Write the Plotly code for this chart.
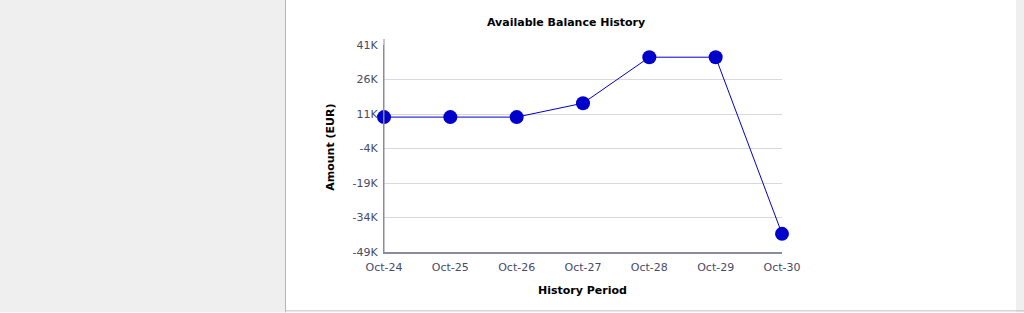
import plotly.graph_objects as go

categories = ["Oct-24", "Oct-25", "Oct-26", "Oct-27", "Oct-28", "Oct-29", "Oct-30"]
balance = [9650, 9650, 9650, 15700, 35700, 35700, -41100]
tick_vals = [41000, 26000, 11000, -4000, -19000, -34000, -49000]
tick_text = ["41K", "26K", "11K", "-4K", "-19K", "-34K", "-49K"]

W, H = 1024, 313
L, R, T, B = 384, 782, 45, 252.5

fig = go.Figure()
fig.add_trace(go.Scatter(
    x=categories, y=balance, mode="lines+markers",
    line=dict(color="#0000CC", width=1),
    marker=dict(color="#0000CC", size=14),
    cliponaxis=False, hoverinfo="x+y",
))

def px(x):
    return (x - L) / (R - L)

def py(y):
    return (H - B - (H - y)) / (B - T) * -1 + 0 if False else (B - y) / (B - T)

shapes = [
    # left grey panel
    dict(type="rect", xref="paper", yref="paper", x0=px(0), x1=px(285), y0=py(H), y1=py(0),
         fillcolor="#efefef", line=dict(width=0), layer="below"),
    dict(type="line", xref="paper", yref="paper", x0=px(285.5), x1=px(285.5), y0=py(H), y1=py(0),
         line=dict(color="#b4b4b4", width=1), layer="below"),
    # right grey strip
    dict(type="rect", xref="paper", yref="paper", x0=px(1016), x1=px(1024), y0=py(H), y1=py(0),
         fillcolor="#efefef", line=dict(width=0), layer="below"),
    # bottom border
    dict(type="line", xref="paper", yref="paper", x0=px(285), x1=px(1024), y0=py(311.5), y1=py(311.5),
         line=dict(color="#c0c0c0", width=1), layer="below"),
    # y axis line extended slightly above
    dict(type="line", xref="paper", yref="paper", x0=0, x1=0, y0=0, y1=py(39),
         line=dict(color="#8a8aa0", width=1)),
]

annotations = [
    dict(text="<b>Available Balance History</b>", xref="paper", yref="paper",
         x=px(566), y=py(22), xanchor="center", yanchor="middle", showarrow=False,
         font=dict(family="DejaVu Sans", size=11, color="#000000")),
    dict(text="<b>Amount (EUR)</b>", xref="paper", yref="paper", textangle=-90,
         x=px(331), y=py(148), xanchor="center", yanchor="middle", showarrow=False,
         font=dict(family="DejaVu Sans", size=11, color="#000000")),
    dict(text="<b>History Period</b>", xref="paper", yref="paper",
         x=px(582), y=py(291), xanchor="center", yanchor="middle", showarrow=False,
         font=dict(family="DejaVu Sans", size=11, color="#000000")),
]

fig.update_layout(
    width=W, height=H,
    margin=dict(l=L, r=W - R, t=T, b=H - B, pad=0),
    paper_bgcolor="#ffffff", plot_bgcolor="#ffffff",
    showlegend=False,
    shapes=shapes, annotations=annotations,
    font=dict(family="DejaVu Sans", size=11, color="#4a4a6a"),
)
fig.update_xaxes(
    type="category", range=[0, 6], showgrid=False, zeroline=False,
    showline=True, linecolor="#8a8aa0", linewidth=2,
    ticks="", ticklabelstandoff=4,
    tickfont=dict(family="DejaVu Sans", size=11, color="#4a4a6a"),
)
fig.update_yaxes(
    range=[-49000, 41000], tickvals=tick_vals, ticktext=tick_text,
    showgrid=True, gridcolor="#d8d8e4", gridwidth=1, zeroline=False,
    showline=True, linecolor="#8a8aa0", linewidth=1,
    ticks="", ticklabelstandoff=3,
    tickfont=dict(family="DejaVu Sans", size=11, color="#4a4a6a"),
)

fig.write_html("out.html")
